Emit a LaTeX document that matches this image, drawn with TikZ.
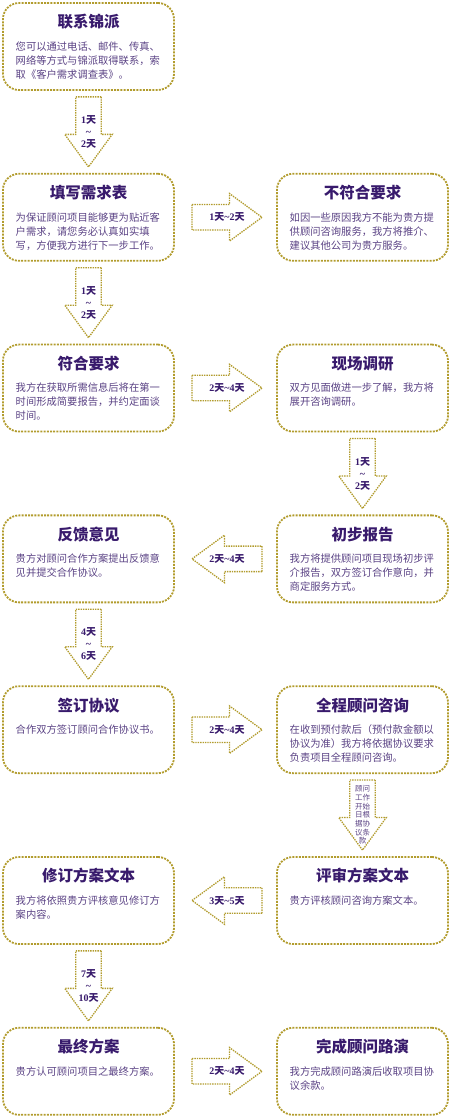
\documentclass[tikz,border=0pt]{standalone}
\usepackage{fontspec}
\setmainfont{Liberation Serif}
\newfontfamily\cjk{Noto Sans CJK SC}
\usetikzlibrary{positioning,calc}
\definecolor{dotgold}{RGB}{178,156,46}
\definecolor{titlepurple}{RGB}{56,26,108}
\definecolor{textpurple}{RGB}{90,66,132}
\newcommand{\tian}{{\cjk\bfseries 天}}

\begin{document}
\begin{tikzpicture}[
  node distance=83.8pt and 103pt,
  card/.style={draw=dotgold,line width=1.8pt,dash pattern=on 2pt off 1.2pt,rounded corners=16pt,minimum width=171pt,minimum height=87pt,inner sep=0pt,outer sep=0pt},
  cardtitle/.style={font=\cjk\bfseries\fontsize{15.5}{16}\selectfont,text=titlepurple,inner sep=0pt},
  cardbody/.style={font=\cjk\fontsize{10.3}{14}\selectfont,text=textpurple,align=left,anchor=north west,inner sep=0pt},
  daylabel/.style={font=\bfseries\fontsize{10}{12}\selectfont,text=titlepurple,align=center,inner sep=0pt},
  smalllabel/.style={font=\cjk\fontsize{7.5}{8.7}\selectfont,text=textpurple,align=center,inner sep=0pt},
  arrowline/.style={draw=dotgold,line width=1.3pt,dash pattern=on 1.4pt off 1pt,fill=white},
  blockarrow/.pic={\draw[arrowline] (-35pt,12.75pt) -- (2.5pt,12.75pt) -- (2.5pt,23.75pt) -- (35pt,0pt) -- (2.5pt,-23.75pt) -- (2.5pt,-12.75pt) -- (-35pt,-12.75pt) -- cycle;}
]
\useasboundingbox (0,0) rectangle (450pt,1117pt);
% cards
\node[card] (L1) at (88.5pt,1070.5pt) {};
\node[card,below=of L1] (L2) {};
\node[card,right=of L2] (R2) {};
\node[card,below=of L2] (L3) {};
\node[card,right=of L3] (R3) {};
\node[card,below=of L3] (L4) {};
\node[card,right=of L4] (R4) {};
\node[card,below=of L4] (L5) {};
\node[card,right=of L5] (R5) {};
\node[card,below=of L5] (L6) {};
\node[card,right=of L6] (R6) {};
\node[card,below=of L6] (L7) {};
\node[card,right=of L7] (R7) {};
% titles
\node[cardtitle] (tL1) at ($(L1.north)+(0,-19pt)$) {联系锦派};
\node[cardtitle] (tL2) at ($(L2.north)+(0,-19pt)$) {填写需求表};
\node[cardtitle] (tR2) at ($(R2.north)+(0,-19pt)$) {不符合要求};
\node[cardtitle] (tL3) at ($(L3.north)+(0,-19pt)$) {符合要求};
\node[cardtitle] (tR3) at ($(R3.north)+(0,-19pt)$) {现场调研};
\node[cardtitle] (tL4) at ($(L4.north)+(0,-19pt)$) {反馈意见};
\node[cardtitle] (tR4) at ($(R4.north)+(0,-19pt)$) {初步报告};
\node[cardtitle] (tL5) at ($(L5.north)+(0,-19pt)$) {签订协议};
\node[cardtitle] (tR5) at ($(R5.north)+(0,-19pt)$) {全程顾问咨询};
\node[cardtitle] (tL6) at ($(L6.north)+(0,-19pt)$) {修订方案文本};
\node[cardtitle] (tR6) at ($(R6.north)+(0,-19pt)$) {评审方案文本};
\node[cardtitle] (tL7) at ($(L7.north)+(0,-19pt)$) {最终方案};
\node[cardtitle] (tR7) at ($(R7.north)+(0,-19pt)$) {完成顾问路演};
% texts
\node[cardbody] (bL1) at ($(L1.north west)+(12.5pt,-38.4pt)$) {您可以通过电话、邮件、传真、\\网络等方式与锦派取得联系，索\\取《客户需求调查表》。};
\node[cardbody] (bL2) at ($(L2.north west)+(12.5pt,-38.4pt)$) {为保证顾问项目能够更为贴近客\\户需求，请您务必认真如实填\\写，方便我方进行下一步工作。};
\node[cardbody] (bR2) at ($(R2.north west)+(12.5pt,-38.4pt)$) {如因一些原因我方不能为贵方提\\供顾问咨询服务，我方将推介、\\建议其他公司为贵方服务。};
\node[cardbody] (bL3) at ($(L3.north west)+(12.5pt,-38.4pt)$) {我方在获取所需信息后将在第一\\时间形成简要报告，并约定面谈\\时间。};
\node[cardbody] (bR3) at ($(R3.north west)+(12.5pt,-38.4pt)$) {双方见面做进一步了解，我方将\\展开咨询调研。};
\node[cardbody] (bL4) at ($(L4.north west)+(12.5pt,-38.4pt)$) {贵方对顾问合作方案提出反馈意\\见并提交合作协议。};
\node[cardbody] (bR4) at ($(R4.north west)+(12.5pt,-38.4pt)$) {我方将提供顾问项目现场初步评\\介报告，双方签订合作意向，并\\商定服务方式。};
\node[cardbody] (bL5) at ($(L5.north west)+(12.5pt,-38.4pt)$) {合作双方签订顾问合作协议书。};
\node[cardbody] (bR5) at ($(R5.north west)+(12.5pt,-38.4pt)$) {在收到预付款后（预付款金额以\\协议为准）我方将依据协议要求\\负责项目全程顾问咨询。};
\node[cardbody] (bL6) at ($(L6.north west)+(12.5pt,-38.4pt)$) {我方将依照贵方评核意见修订方\\案内容。};
\node[cardbody] (bR6) at ($(R6.north west)+(12.5pt,-38.4pt)$) {贵方评核顾问咨询方案文本。};
\node[cardbody] (bL7) at ($(L7.north west)+(12.5pt,-38.4pt)$) {贵方认可顾问项目之最终方案。};
\node[cardbody] (bR7) at ($(R7.north west)+(12.5pt,-38.4pt)$) {我方完成顾问路演后收取项目协\\议余款。};
% block arrows
\coordinate (m1) at ($(L1.south)!.5!(L2.north)$);
\coordinate (m2) at ($(L2.east)!.5!(R2.west)+(1.5pt,0)$);
\coordinate (m3) at ($(L2.south)!.5!(L3.north)$);
\coordinate (m4) at ($(L3.east)!.5!(R3.west)+(1.5pt,0)$);
\coordinate (m5) at ($(R3.south)!.5!(R4.north)$);
\coordinate (m6) at ($(L4.east)!.5!(R4.west)+(1.5pt,0)$);
\coordinate (m7) at ($(L4.south)!.5!(L5.north)$);
\coordinate (m8) at ($(L5.east)!.5!(R5.west)+(1.5pt,0)$);
\coordinate (m9) at ($(R5.south)!.5!(R6.north)$);
\coordinate (m10) at ($(L6.east)!.5!(R6.west)+(1.5pt,0)$);
\coordinate (m11) at ($(L6.south)!.5!(L7.north)$);
\coordinate (m12) at ($(L7.east)!.5!(R7.west)+(1.5pt,0)$);
\pic[rotate=-90] at (m1) {blockarrow};
\pic at (m2) {blockarrow};
\pic[rotate=-90] at (m3) {blockarrow};
\pic at (m4) {blockarrow};
\pic[rotate=-90] at (m5) {blockarrow};
\pic[rotate=180] at (m6) {blockarrow};
\pic[rotate=-90] at (m7) {blockarrow};
\pic at (m8) {blockarrow};
\pic[rotate=-90] at (m9) {blockarrow};
\pic[rotate=180] at (m10) {blockarrow};
\pic[rotate=-90] at (m11) {blockarrow};
\pic at (m12) {blockarrow};
% day labels
\node[daylabel] (d1) at (m1) {1\tian\\\textasciitilde\\2\tian};
\node[daylabel] (d2) at (m2) {1\tian\textasciitilde 2\tian};
\node[daylabel] (d3) at (m3) {1\tian\\\textasciitilde\\2\tian};
\node[daylabel] (d4) at (m4) {2\tian\textasciitilde 4\tian};
\node[daylabel] (d5) at (m5) {1\tian\\\textasciitilde\\2\tian};
\node[daylabel] (d6) at (m6) {2\tian\textasciitilde 4\tian};
\node[daylabel] (d7) at (m7) {4\tian\\\textasciitilde\\6\tian};
\node[daylabel] (d8) at (m8) {2\tian\textasciitilde 4\tian};
\node[smalllabel] (d9) at (m9) {顾问\\工作\\开始\\日根\\据协\\议条\\款};
\node[daylabel] (d10) at (m10) {3\tian\textasciitilde 5\tian};
\node[daylabel] (d11) at (m11) {7\tian\\\textasciitilde\\10\tian};
\node[daylabel] (d12) at (m12) {2\tian\textasciitilde 4\tian};
\end{tikzpicture}
\end{document}
